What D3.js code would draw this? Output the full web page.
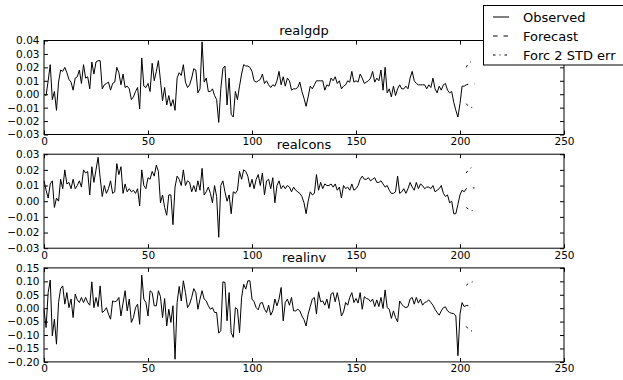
<!DOCTYPE html>
<html>
<head>
<meta charset="utf-8">
<script src="https://cdn.jsdelivr.net/npm/d3@7"></script>
<style>
  body { margin: 0; background: #fff; }
  text { font-family: "DejaVu Sans", sans-serif; fill: #000; }
</style>
</head>
<body>
<div id="chart"></div>
<script>
// panel titles
const names = ["realgdp", "realcons", "realinv"];

// observed series (index 0..202)
const realgdp = [
  0.000, -0.001, 0.010, 0.022, -0.004, 0.002, -0.012, 0.009, 0.018, 0.017,
  0.020, 0.016, 0.011, 0.009, 0.003, 0.012, 0.013, 0.018, 0.008, 0.022,
  0.012, 0.013, 0.004, 0.024, 0.015, 0.024, 0.025, 0.025, 0.004, 0.007,
  0.008, 0.009, 0.003, 0.008, 0.009, 0.020, 0.016, 0.007, 0.015, 0.005,
  0.006, 0.004, -0.004, -0.002, 0.002, 0.005, -0.011, 0.027, 0.006, 0.005,
  0.008, 0.002, 0.023, 0.010, 0.017, 0.025, 0.010, -0.005, 0.005, -0.008,
  -0.001, -0.009, -0.004, -0.012, 0.012, 0.016, 0.014, 0.022, 0.009, 0.005,
  0.007, 0.012, 0.019, 0.018, 0.001, 0.004, 0.039, 0.009, 0.012, 0.002,
  0.002, 0.004, -0.001, -0.004, -0.021, 0.004, 0.019, 0.021, -0.008, 0.012,
  -0.015, -0.017, 0.002, -0.004, 0.006, 0.015, 0.022, 0.021, 0.021, 0.020,
  0.017, 0.010, 0.009, 0.010, 0.011, 0.015, 0.008, 0.010, 0.007, 0.005,
  0.007, 0.006, 0.010, 0.017, 0.007, 0.013, 0.006, 0.012, 0.010, 0.003,
  0.004, 0.004, 0.005, 0.009, 0.002, -0.003, -0.009, -0.002, 0.006, 0.004,
  0.007, 0.010, 0.010, 0.010, 0.010, 0.003, 0.007, 0.006, 0.012, 0.010,
  0.013, 0.008, 0.010, 0.004, 0.006, 0.007, 0.010, 0.009, 0.017, 0.009,
  0.010, 0.009, 0.015, 0.012, 0.008, 0.009, 0.010, 0.012, 0.017, 0.009,
  0.012, 0.010, 0.018, 0.003, 0.020, 0.001, 0.004, -0.002, 0.006, -0.001,
  0.004, 0.007, 0.004, 0.004, 0.006, 0.004, 0.012, 0.017, 0.010, 0.008,
  0.007, 0.007, 0.007, 0.007, 0.004, 0.007, 0.005, 0.012, 0.004, 0.001,
  0.006, 0.003, 0.007, 0.008, 0.003, 0.001, 0.002, -0.006, -0.012, -0.017,
  -0.007, 0.006, 0.006
];
const realcons = [
  0.013, 0.007, 0.002, 0.011, 0.013, -0.004, 0.002, 0.000, 0.014, 0.008,
  0.020, 0.011, 0.012, 0.008, 0.014, 0.008, 0.010, 0.013, 0.009, 0.020,
  0.018, 0.019, 0.004, 0.022, 0.012, 0.020, 0.028, 0.015, 0.003, 0.010,
  0.005, 0.008, 0.013, 0.005, 0.006, 0.024, 0.017, 0.022, 0.005, 0.011,
  0.006, 0.008, 0.006, 0.007, 0.005, 0.008, -0.003, 0.020, 0.010, 0.008,
  0.015, 0.014, 0.019, 0.016, 0.023, 0.019, -0.001, 0.004, -0.004, -0.009,
  0.004, 0.004, -0.015, 0.009, 0.016, 0.014, 0.010, 0.020, 0.010, 0.013,
  0.012, 0.006, 0.010, 0.006, 0.013, 0.007, 0.021, 0.004, 0.006, 0.009,
  0.005, -0.001, 0.010, 0.003, -0.023, 0.010, 0.013, 0.006, 0.000, 0.004,
  -0.008, 0.006, 0.005, 0.007, 0.019, 0.014, 0.020, 0.019, 0.016, 0.009,
  0.014, 0.008, 0.014, 0.017, 0.010, 0.018, 0.004, 0.013, 0.014, 0.008,
  0.015, -0.001, 0.010, 0.013, 0.008, 0.010, 0.008, 0.010, 0.009, 0.006,
  0.009, 0.007, 0.006, 0.005, 0.003, -0.001, -0.008, 0.000, 0.006, 0.004,
  0.005, 0.017, 0.007, 0.012, 0.008, 0.011, 0.010, 0.010, 0.011, 0.009,
  0.011, 0.007, 0.009, 0.002, 0.010, 0.008, 0.009, 0.007, 0.011, 0.007,
  0.008, 0.010, 0.014, 0.016, 0.014, 0.014, 0.015, 0.013, 0.014, 0.015,
  0.012, 0.012, 0.013, 0.011, 0.009, 0.010, 0.007, 0.005, 0.005, 0.006,
  0.016, 0.005, 0.006, 0.008, 0.005, 0.008, 0.012, 0.009, 0.007, 0.012,
  0.008, 0.011, 0.010, 0.008, 0.009, 0.009, 0.008, 0.010, 0.006, 0.007,
  0.008, 0.010, 0.005, 0.003, 0.004, -0.001, 0.000, -0.008, -0.008, -0.002,
  0.004, 0.007, 0.006
];
const realinv = [
  -0.005, -0.072, 0.058, 0.105, -0.103, -0.041, -0.134, 0.021, 0.073, 0.083,
  0.015, 0.058, 0.002, 0.034, -0.035, 0.052, 0.031, 0.021, 0.040, 0.021,
  0.040, 0.021, 0.011, 0.098, 0.002, 0.040, 0.006, 0.083, -0.016, -0.010,
  0.002, -0.022, -0.041, 0.027, 0.024, 0.027, 0.040, -0.029, 0.019, 0.065,
  -0.010, 0.034, -0.053, -0.035, 0.002, 0.015, -0.060, 0.123, 0.034, 0.021,
  -0.029, 0.065, 0.058, 0.009, 0.009, 0.065, 0.043, -0.035, 0.036, -0.066,
  -0.004, -0.053, 0.009, -0.190, 0.021, 0.081, 0.027, 0.102, 0.058, 0.002,
  0.015, 0.040, 0.073, 0.058, -0.004, 0.034, 0.065, 0.034, 0.027, 0.009,
  -0.004, 0.002, -0.016, -0.016, -0.093, -0.084, 0.098, 0.096, -0.047, 0.058,
  -0.091, -0.109, 0.002, -0.004, -0.091, 0.040, 0.089, 0.071, 0.102, 0.102,
  0.034, 0.024, 0.002, -0.006, 0.019, 0.021, -0.004, -0.016, 0.011, -0.026,
  -0.010, 0.034, 0.009, 0.034, 0.077, -0.047, 0.021, 0.034, 0.011, 0.040,
  -0.010, -0.010, -0.004, -0.010, -0.029, -0.043, -0.066, -0.022, 0.006, 0.034,
  0.040, -0.022, 0.061, 0.024, 0.027, 0.011, 0.034, -0.001, 0.052, 0.058,
  0.024, 0.058, 0.021, -0.029, -0.014, 0.021, 0.011, 0.040, 0.058, 0.021,
  0.036, 0.019, 0.058, -0.004, 0.043, 0.036, 0.034, 0.024, 0.034, 0.006,
  0.031, 0.006, 0.040, -0.001, 0.068, 0.002, -0.004, -0.038, -0.010, -0.035,
  -0.051, 0.027, 0.015, 0.006, 0.002, 0.006, 0.034, 0.040, 0.015, 0.040,
  0.019, 0.034, 0.011, 0.021, 0.024, 0.031, 0.021, 0.011, -0.004, -0.016,
  -0.026, -0.010, 0.002, 0.005, -0.010, -0.016, -0.019, -0.020, -0.029, -0.177,
  -0.022, 0.021, 0.006
];

// 5-step forecasts and +/- 2 std err bands (index 203..207)
const gdpForecast = [0.0070, 0.0074, 0.0076, 0.0077, 0.0078];
const gdpUpper = [0.020, 0.023, 0.024, 0.025, 0.025];
const gdpLower = [-0.007, -0.009, -0.0095, -0.010, -0.010];
const consForecast = [0.0080, 0.0083, 0.0084, 0.0085, 0.0085];
const consUpper = [0.018, 0.020, 0.021, 0.022, 0.022];
const consLower = [-0.004, -0.005, -0.006, -0.006, -0.006];
const invForecast = [0.010, 0.009, 0.009, 0.009, 0.009];
const invUpper = [0.085, 0.092, 0.096, 0.098, 0.098];
const invLower = [-0.068, -0.078, -0.083, -0.086, -0.088];

// axis ticks
const xTicks = [0, 50, 100, 150, 200, 250];
const gdpTicks = [-0.03, -0.02, -0.01, 0.00, 0.01, 0.02, 0.03, 0.04];
const consTicks = [-0.03, -0.02, -0.01, 0.00, 0.01, 0.02, 0.03];
const invTicks = [-0.20, -0.15, -0.10, -0.05, 0.00, 0.05, 0.10, 0.15];

const legendLabels = ["Observed", "Forecast", "Forc 2 STD err"];

const panels = [
  { name: names[0], obs: realgdp, fc: gdpForecast, up: gdpUpper, lo: gdpLower, ticks: gdpTicks },
  { name: names[1], obs: realcons, fc: consForecast, up: consUpper, lo: consLower, ticks: consTicks },
  { name: names[2], obs: realinv, fc: invForecast, up: invUpper, lo: invLower, ticks: invTicks }
];

const width = 623, height = 380;
const left = 44, right = 564;
const panelTop = [40.5, 154.2, 267.9];
const panelH = 94;

const dashFc = "4.5,6";
const dashErr = "2.5,4,1,4";

const svg = d3.select("#chart").append("svg")
  .attr("width", width).attr("height", height);
svg.append("rect").attr("width", width).attr("height", height).attr("fill", "#fff");

const x = d3.scaleLinear().domain([0, 250]).range([left, right]);
const fmt = d3.format(".2f");

panels.forEach((p, k) => {
  const top = panelTop[k], bottom = top + panelH;
  const y = d3.scaleLinear()
    .domain([p.ticks[0], p.ticks[p.ticks.length - 1]])
    .range([bottom, top]);

  const g = svg.append("g");

  const line = d3.line().x(d => x(d[0])).y(d => y(d[1]));
  const n = p.obs.length;

  g.append("path")
    .datum(p.obs.map((v, i) => [i, v]))
    .attr("d", line)
    .attr("fill", "none").attr("stroke", "#000").attr("stroke-width", 1);

  // forecast joins on to the last observation
  const fcPts = [[n - 1, p.obs[n - 1]]].concat(p.fc.map((v, i) => [n + i, v]));
  g.append("path").datum(fcPts).attr("d", line)
    .attr("fill", "none").attr("stroke", "#000").attr("stroke-width", 1)
    .attr("stroke-dasharray", dashFc);

  [p.up, p.lo].forEach(arr => {
    g.append("path").datum(arr.map((v, i) => [n + i, v])).attr("d", line)
      .attr("fill", "none").attr("stroke", "#000").attr("stroke-width", 1)
      .attr("stroke-dasharray", dashErr);
  });

  // axes, ticks pointing inward on all four sides
  const ax = (axis, tr, labels) => {
    const a = g.append("g").attr("transform", tr).call(axis);
    a.select(".domain").remove();
    a.selectAll("line").attr("stroke", "#000");
    a.selectAll("text").style("font-size", "10.5px")
      .style("font-family", "'DejaVu Sans', sans-serif");
    if (!labels) a.selectAll("text").remove();
    return a;
  };
  ax(d3.axisLeft(y).tickValues(p.ticks).tickFormat(fmt).tickSize(-4).tickPadding(4.5),
     `translate(${left},0)`, true);
  ax(d3.axisRight(y).tickValues(p.ticks).tickSize(-4), `translate(${right},0)`, false);
  ax(d3.axisBottom(x).tickValues(xTicks).tickFormat(d3.format("d")).tickSize(-4).tickPadding(3),
     `translate(0,${bottom})`, true);
  ax(d3.axisTop(x).tickValues(xTicks).tickSize(-4), `translate(0,${top})`, false);

  g.append("rect")
    .attr("x", left).attr("y", top)
    .attr("width", right - left).attr("height", panelH)
    .attr("fill", "none").attr("stroke", "#000").attr("stroke-width", 1);

  g.append("text")
    .attr("x", (left + right) / 2).attr("y", top - 5.5)
    .attr("text-anchor", "middle")
    .style("font-size", "13px")
    .text(p.name);
});

// figure legend, upper right (runs off the edge)
const leg = svg.append("g");
leg.append("rect")
  .attr("x", 483.5).attr("y", 5.5).attr("width", 160).attr("height", 59.5)
  .attr("fill", "#fff").attr("stroke", "#000").attr("stroke-width", 1);
const legDash = [null, dashFc, dashErr];
legendLabels.forEach((lab, i) => {
  const ly = 17 + i * 19;
  leg.append("line")
    .attr("x1", 493).attr("x2", 509).attr("y1", ly).attr("y2", ly)
    .attr("stroke", "#000").attr("stroke-width", 1)
    .attr("stroke-dasharray", legDash[i]);
  leg.append("text")
    .attr("x", 523).attr("y", ly + 4.7)
    .style("font-size", "13px")
    .text(lab);
});
</script>
</body>
</html>
